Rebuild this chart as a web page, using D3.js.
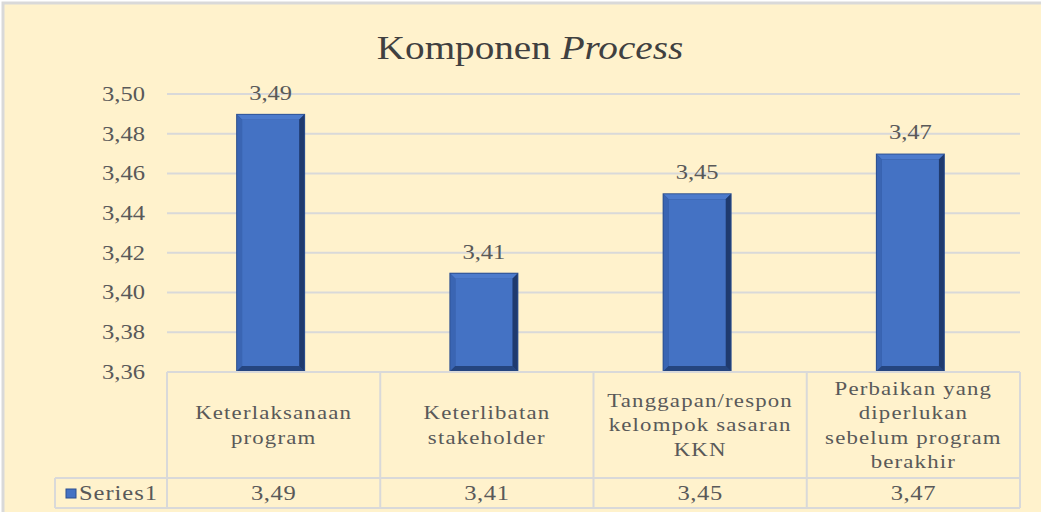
<!DOCTYPE html>
<html>
<head>
<meta charset="utf-8">
</head>
<body style="margin:0;background:#fff">
<div id="chart"></div>
<script src="https://d3js.org/d3.v7.min.js"></script>
<script>
// data
var categories = ["Keterlaksanaan program", "Keterlibatan stakeholder",
                  "Tanggapan/respon kelompok sasaran KKN",
                  "Perbaikan yang diperlukan sebelum program berakhir"];
var categoryLines = [["Keterlaksanaan", "program"],
                     ["Keterlibatan", "stakeholder"],
                     ["Tanggapan/respon", "kelompok sasaran", "KKN"],
                     ["Perbaikan yang", "diperlukan", "sebelum program", "berakhir"]];
var values = [3.49, 3.41, 3.45, 3.47];
var yTicks = [3.36, 3.38, 3.40, 3.42, 3.44, 3.46, 3.48, 3.50];
var seriesName = "Series1";

var W = 1041, H = 512;
var margin = {top: 94, left: 167, right: 21, bottom: 140};
var width = W - margin.left - margin.right,
    height = H - margin.top - margin.bottom;
var sx = 1.17; // the picture's text is a bit wide
var serif = "'Liberation Serif', 'Times New Roman', serif";
var fmt = function(v) { return d3.format(".2f")(v).replace(".", ","); };

var svg = d3.select("#chart").append("svg")
    .attr("width", W).attr("height", H);

// chart background
svg.append("rect")
    .attr("x", 3).attr("y", 3).attr("width", W + 10).attr("height", H + 10)
    .attr("fill", "#fff2cc").attr("stroke", "#d9d9d9").attr("stroke-width", 3);

function stext(g, x, y, str, size, anchor, spacing) {
  return g.append("text")
    .attr("transform", "translate(" + x + "," + y + ") scale(" + sx + ",1)")
    .attr("text-anchor", anchor || "middle")
    .attr("dominant-baseline", "central")
    .style("font-family", serif)
    .style("fill", "#595959")
    .style("letter-spacing", (spacing || 0) + "px")
    .style("font-size", size + "px")
    .text(str);
}

// title
var title = svg.append("text")
    .attr("transform", "translate(530,48) scale(" + sx + ",1)")
    .attr("text-anchor", "middle").attr("dominant-baseline", "central")
    .style("font-family", serif)
    .style("font-size", "33.5px").style("fill", "#404040");
title.append("tspan").text("Komponen ");
title.append("tspan").style("font-style", "italic").text("Process");

var g = svg.append("g")
    .attr("transform", "translate(" + margin.left + "," + margin.top + ")");

var x = d3.scaleBand().domain(categories).range([0, width]).paddingInner(0).paddingOuter(0);
var y = d3.scaleLinear().domain([3.36, 3.50]).range([height, 0]);

// gridlines
g.selectAll(".grid").data(yTicks).enter().append("line")
    .attr("x1", 0).attr("x2", width)
    .attr("y1", function(d) { return y(d); }).attr("y2", function(d) { return y(d); })
    .attr("stroke", "#d9d9d9").attr("stroke-width", 2);

// y tick labels
yTicks.forEach(function(t) {
  stext(g, -22, y(t), fmt(t), 21, "end");
});

// bars with a bevel
var bw = 69, bev = 6;
values.forEach(function(v, i) {
  var cx = x(categories[i]) + x.bandwidth() / 2 - 3;
  var x0 = cx - bw / 2, x1 = cx + bw / 2, y0 = y(v), y1 = y(3.36);
  var b = g.append("g");
  b.append("rect").attr("x", x0).attr("y", y0).attr("width", bw).attr("height", y1 - y0)
      .attr("fill", "#2c4f8f");
  var ix0 = x0 + bev, ix1 = x1 - bev, iy0 = y0 + bev, iy1 = y1 - bev;
  var poly = function(pts, c) {
    b.append("polygon").attr("points", pts.map(function(p) { return p.join(","); }).join(" "))
      .attr("fill", c);
  };
  poly([[x0 + 1, y0 + 1], [x1 - 1, y0 + 1], [ix1, iy0], [ix0, iy0]], "#4d7bcc");
  poly([[x0 + 1, y0 + 1], [ix0, iy0], [ix0, iy1], [x0 + 1, y1 - 1]], "#3a65b3");
  poly([[x1 - 1, y0 + 1], [x1 - 1, y1 - 1], [ix1, iy1], [ix1, iy0]], "#1f3a6e");
  poly([[x0 + 1, y1 - 1], [ix0, iy1], [ix1, iy1], [x1 - 1, y1 - 1]], "#25457f");
  b.append("rect").attr("x", ix0).attr("y", iy0).attr("width", ix1 - ix0).attr("height", iy1 - iy0)
      .attr("fill", "#4472c4");
  stext(g, cx, y0 - 21, fmt(v), 21);
});

// data table under the plot
var rowTop = height, rowMid = height + 106, rowBot = height + 136, legendLeft = -112;
var line = function(x1, y1, x2, y2) {
  g.append("line").attr("x1", x1).attr("y1", y1).attr("x2", x2).attr("y2", y2)
    .attr("stroke", "#d9d9d9").attr("stroke-width", 2);
};
line(0, rowTop, width, rowTop);
line(legendLeft, rowMid, width, rowMid);
line(legendLeft, rowBot, width, rowBot);
line(legendLeft, rowMid, legendLeft, rowBot);
line(0, rowTop, 0, rowBot);
categories.forEach(function(c, i) {
  line(x(c) + x.bandwidth(), rowTop, x(c) + x.bandwidth(), rowBot);
  var cx = x(c) + x.bandwidth() / 2;
  var lines = categoryLines[i], lh = 24.5;
  var start = (rowTop + rowMid) / 2 - (lines.length - 1) * lh / 2;
  lines.forEach(function(l, k) {
    stext(g, cx, start + k * lh, l, 19.5, "middle", 1);
  });
  stext(g, cx, (rowMid + rowBot) / 2, fmt(values[i]), 21, "middle", 0.5);
});

// legend key
g.append("rect").attr("x", legendLeft + 11).attr("y", (rowMid + rowBot) / 2 - 4)
    .attr("width", 10).attr("height", 9).attr("fill", "#4472c4")
    .attr("stroke", "#2c4f8f").attr("stroke-width", 1);
stext(g, legendLeft + 24, (rowMid + rowBot) / 2, seriesName, 21, "start", 0.8);
</script>
</body>
</html>
